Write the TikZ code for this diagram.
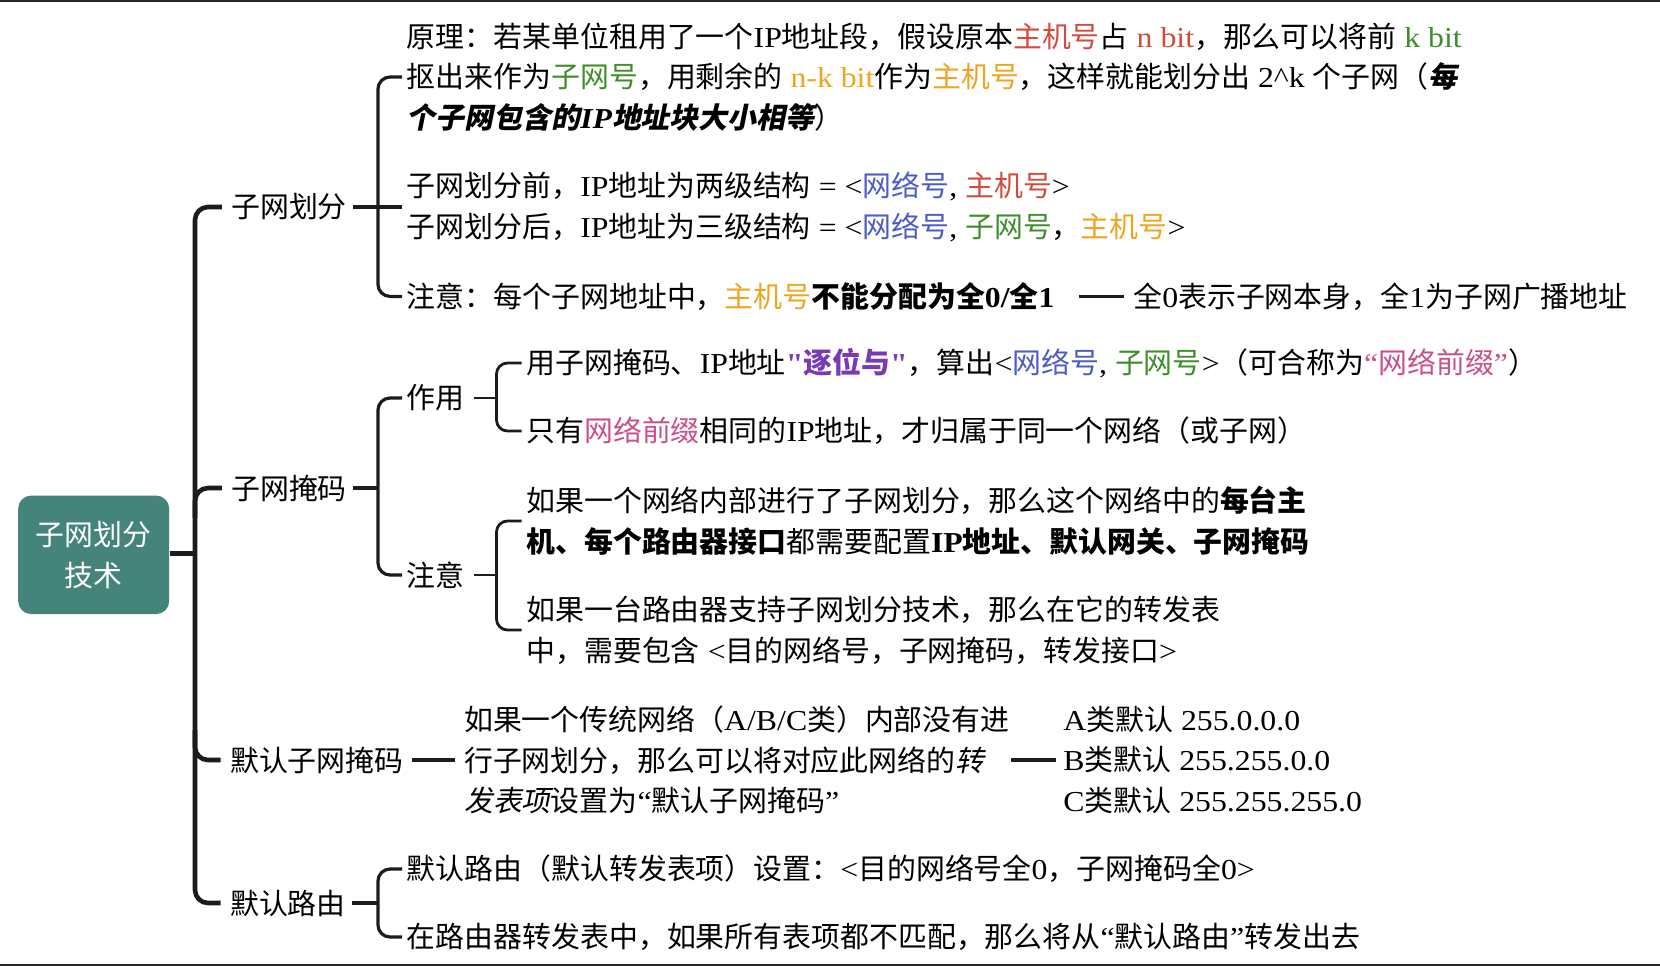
\documentclass[tikz,border=0pt]{standalone}
\usepackage{fontspec}
\usetikzlibrary{calc}
\setmainfont{Noto Sans CJK SC}
\newfontfamily\enf{Liberation Serif}[FakeStretch=1.1]
\newfontfamily\slf{Noto Sans CJK SC}[FakeSlant=0.2]
\newcommand\enx[1]{{\enf #1}}
\definecolor{cred}{HTML}{D14B3E}
\definecolor{cgreen}{HTML}{3E8E2C}
\definecolor{corange}{HTML}{F0A520}
\definecolor{cblue}{HTML}{4B5CC4}
\definecolor{cpurple}{HTML}{7B3AB5}
\definecolor{cpink}{HTML}{C8508E}
\definecolor{linec}{HTML}{1C1C1C}
\definecolor{rootc}{HTML}{44847A}
\begin{document}
\begin{tikzpicture}[x=0.5pt,y=-0.5pt,
  txt/.style={anchor=west,inner sep=0pt,align=left,text=black,font=\fontsize{14.45}{20.4}\selectfont},
  rootbox/.style={rectangle,rounded corners=6.5pt,fill=rootc,text=white,align=center,
    minimum width=75.5pt,minimum height=59.25pt,inner sep=0pt,font=\fontsize{14.45}{20.5}\selectfont},
  trunk/.style={line width=2.3pt,draw=linec,rounded corners=6.5pt},
  brk/.style={line width=1.6pt,draw=linec,rounded corners=6pt},
  brkb/.style={line width=1.4pt,draw=linec,rounded corners=5.5pt},
  dash1/.style={line width=1.6pt,draw=linec},
]
\useasboundingbox (0,0) rectangle (1660,966);
\fill[white] (0,0) rectangle (1660,966);
\draw[line width=1pt,black!85] (0,1) -- (1660,1);
\draw[line width=1pt,black!85] (0,965) -- (1660,965);

% root
\node[rootbox] (root) at (93.7,554.8) {子网划分\\技术};
\coordinate (T) at (195,554);

% level 1
\node[txt] (b1) at (230.8,207) {子网划分};
\node[txt] (b2) at (230.8,488) {子网掩码};
\node[txt] (b3) at (229.7,760) {默认子网掩码};
\node[txt] (b4) at (229.7,903) {默认路由};

% trunk
\draw[trunk] ([xshift=-4.5pt]b1.west) -- (T |- b1.west) -- (T |- b4.west) -- ([xshift=-4.5pt]b4.west);
\draw[trunk] ($(T |- b2.west)+(0,30)$) -- (T |- b2.west) -- ([xshift=-4.5pt]b2.west);
\draw[trunk] ($(T |- b3.west)+(0,-30)$) -- (T |- b3.west) -- ([xshift=-4.5pt]b3.west);
\draw[trunk,rounded corners=0pt] (root.east |- 0,553.7) -- (T |- 0,553.7);

% ---- 子网划分 children
\node[txt] (c11) at (406.5,77) {原理：若某单位租用了一个\enx{IP}地址段，假设原本{\color{cred}主机号}占\enx{~\color{cred}n bit}，那么可以将前\enx{~\color{cgreen}k bit}\\
抠出来作为{\color{cgreen}子网号}，用剩余的\enx{~\color{corange}n-k bit}作为{\color{corange}主机号}，这样就能划分出\enx{~2\textasciicircum k~}个子网（{\slf\bfseries 每}\\
{\slf\bfseries 个子网包含的{\enf\itshape IP}地址块大小相等}）};
\node[txt] (c12) at (406.5,207) {子网划分前，\enx{IP}地址为两级结构\enx{~=~<}{\color{cblue}网络号}\enx{,~}{\color{cred}主机号}\enx{>}\\
子网划分后，\enx{IP}地址为三级结构\enx{~=~<}{\color{cblue}网络号}\enx{,~}{\color{cgreen}子网号}，{\color{corange}主机号}\enx{>}};
\node[txt] (c13) at (406.5,296.4) {注意：每个子网地址中，{\color{corange}主机号}{\bfseries 不能分配为全\enx{0/}全\enx{1}}};
\node[txt] (c13b) at (1133,296.4) {全\enx{0}表示子网本身，全\enx{1}为子网广播地址};
\coordinate (B1) at (378,207);
\draw[brk] ([xshift=-2.25pt]c11.west) -- (B1 |- c11.west) -- (B1 |- c13.west) -- ([xshift=-2.25pt]c13.west);
\draw[brk] ([xshift=3pt]b1.east) -- ([xshift=-2.25pt]c12.west);
\draw[dash1] ([xshift=12pt]c13.east) -- ([xshift=-4.5pt]c13b.west);

% ---- 子网掩码 children
\node[txt] (s1) at (406.5,398) {作用};
\node[txt] (s2) at (406.5,575) {注意};
\coordinate (B2) at (378,488);
\draw[brk] ([xshift=3pt]b2.east) -- (B2);
\draw[brk] ([xshift=-2.25pt]s1.west) -- (B2 |- s1.west) -- (B2 |- s2.west) -- ([xshift=-2.25pt]s2.west);

\node[txt] (a1) at (526,363) {用子网掩码、\enx{IP}地址{\color{cpurple}\bfseries\enx{"}逐位与\enx{"}}，算出\enx{<}{\color{cblue}网络号}\enx{,~}{\color{cgreen}子网号}\enx{>}（可合称为{\color{cpink}\enx{“}网络前缀\enx{”}}）};
\node[txt] (a2) at (526,431) {只有{\color{cpink}网络前缀}相同的\enx{IP}地址，才归属于同一个网络（或子网）};
\coordinate (B3) at (496.5,398);
\draw[brkb] ([xshift=4.3pt]s1.east) -- (B3);
\draw[brkb] ([xshift=-2.25pt]a1.west) -- (B3 |- a1.west) -- (B3 |- a2.west) -- ([xshift=-2.25pt]a2.west);

\node[txt] (n1) at (526,521) {如果一个网络内部进行了子网划分，那么这个网络中的{\bfseries 每台主}\\
{\bfseries 机、每个路由器接口}都需要配置{\bfseries\enx{IP}地址、默认网关、子网掩码}};
\node[txt] (n2) at (526,630) {如果一台路由器支持子网划分技术，那么在它的转发表\\
中，需要包含\enx{~<}目的网络号，子网掩码，转发接口\enx{>}};
\coordinate (B4) at (496.5,575);
\draw[brkb] ([xshift=4.3pt]s2.east) -- (B4);
\draw[brkb] ([xshift=-2.25pt]n1.west) -- (B4 |- n1.west) -- (B4 |- n2.west) -- ([xshift=-2.25pt]n2.west);

% ---- 默认子网掩码
\node[txt] (d1) at (463.7,760) {如果一个传统网络（\enx{A/B/C}类）内部没有进\\
行子网划分，那么可以将对应此网络的{\slf 转}\\
{\slf 发表项}设置为\enx{“}默认子网掩码\enx{”}};
\node[txt] (d2) at (1063,760) {\enx{A}类默认\enx{~255.0.0.0}\\
\enx{B}类默认\enx{~255.255.0.0}\\
\enx{C}类默认\enx{~255.255.255.0}};
\draw[dash1] ([xshift=3.85pt]b3.east) -- ([xshift=-4.35pt]d1.west);
\draw[dash1] (d1.east -| 1011,0) -- ([xshift=-3.75pt]d2.west);

% ---- 默认路由
\node[txt] (r1) at (406.5,869) {默认路由（默认转发表项）设置：\enx{<}目的网络号全\enx{0}，子网掩码全\enx{0>}};
\node[txt] (r2) at (406.5,937) {在路由器转发表中，如果所有表项都不匹配，那么将从\enx{“}默认路由\enx{”}转发出去};
\coordinate (B5) at (378,903);
\draw[brk] ([xshift=3pt]b4.east) -- (B5);
\draw[brk] ([xshift=-2.25pt]r1.west) -- (B5 |- r1.west) -- (B5 |- r2.west) -- ([xshift=-2.25pt]r2.west);
\end{tikzpicture}
\end{document}
